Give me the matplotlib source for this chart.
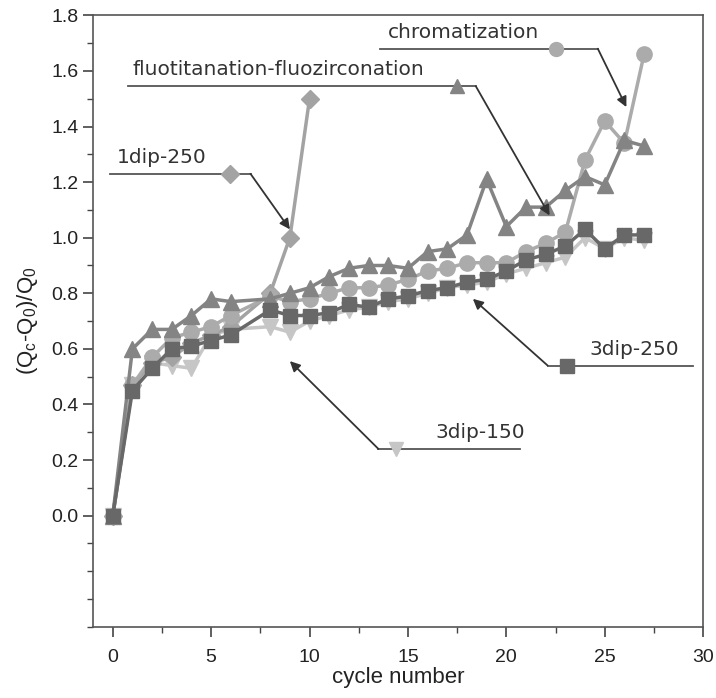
import matplotlib
matplotlib.use("Agg")
import matplotlib.pyplot as plt
from matplotlib.ticker import MultipleLocator, FormatStrFormatter

# cycle numbers (no point at 7)
cycles = [0, 1, 2, 3, 4, 5, 6, 8, 9, 10, 11, 12, 13, 14, 15, 16, 17, 18, 19, 20,
          21, 22, 23, 24, 25, 26, 27]
dip1_x = [0, 1, 2, 3, 4, 5, 6, 8, 9, 10]

dip1_250 = [0.0, 0.47, 0.55, 0.57, 0.62, 0.65, 0.68, 0.80, 1.00, 1.50]
fluo = [0.0, 0.60, 0.67, 0.67, 0.72, 0.78, 0.77, 0.78, 0.80, 0.82, 0.86, 0.89, 0.90,
        0.90, 0.89, 0.95, 0.96, 1.01, 1.21, 1.04, 1.11, 1.11, 1.17, 1.22, 1.19, 1.35, 1.33]
chrom = [0.0, 0.47, 0.57, 0.64, 0.66, 0.68, 0.72, 0.79, 0.77, 0.78, 0.80, 0.82, 0.82,
         0.83, 0.85, 0.88, 0.89, 0.91, 0.91, 0.91, 0.95, 0.98, 1.02, 1.28, 1.42, 1.34, 1.66]
dip3_250 = [0.0, 0.45, 0.53, 0.60, 0.61, 0.63, 0.65, 0.74, 0.72, 0.72, 0.73, 0.76, 0.75,
            0.78, 0.79, 0.81, 0.82, 0.84, 0.85, 0.88, 0.92, 0.94, 0.97, 1.03, 0.96, 1.01, 1.01]
dip3_150 = [0.0, 0.47, 0.55, 0.54, 0.53, 0.65, 0.67, 0.68, 0.66, 0.70, 0.72, 0.74, 0.75,
            0.77, 0.78, 0.80, 0.82, 0.83, 0.84, 0.87, 0.89, 0.91, 0.93, 1.00, 0.96, 1.00, 0.99]

c_dip1 = "#a3a3a3"
c_fluo = "#848484"
c_chrom = "#ababab"
c_3d250 = "#686868"
c_3d150 = "#c6c6c6"

fig = plt.figure(figsize=(7.16, 6.98), dpi=100)
ax = fig.add_axes([0.130, 0.102, 0.852, 0.876])

lw = 2.5
ax.plot(cycles, dip3_150, color=c_3d150, marker="v", ms=11, lw=lw, mec=c_3d150, zorder=2)
ax.plot(dip1_x, dip1_250, color=c_dip1, marker="D", ms=9, lw=lw, mec=c_dip1, zorder=3)
ax.plot(cycles, dip3_250, color=c_3d250, marker="s", ms=10, lw=lw, mec=c_3d250, zorder=4)
ax.plot(cycles, chrom, color=c_chrom, marker="o", ms=11, lw=lw, mec=c_chrom, zorder=3)
ax.plot(cycles, fluo, color=c_fluo, marker="^", ms=11, lw=lw, mec=c_fluo, zorder=3)

# callout labels: text, text pos, underline x-range, line y, marker x, marker, colour, kink, arrow tip
callouts = [
    ("chromatization", (14.0, 1.705), (13.6, 24.65), 1.68, 22.5, "o", c_chrom, 24.65, (26.1, 1.47)),
    ("fluotitanation-fluozirconation", (1.0, 1.57), (0.76, 18.45), 1.545, 17.5, "^", c_fluo, 18.45, (22.2, 1.08)),
    ("1dip-250", (0.2, 1.255), (-0.15, 7.0), 1.23, 5.95, "D", c_dip1, 7.0, (9.0, 1.03)),
    ("3dip-250", (24.2, 0.565), (22.1, 29.5), 0.54, 23.1, "s", c_3d250, 22.1, (18.3, 0.78)),
    ("3dip-150", (16.4, 0.265), (13.5, 20.7), 0.24, 14.4, "v", c_3d150, 13.5, (9.0, 0.556)),
]
for txt, tpos, (x0, x1), ly, mx, mk, col, kx, tip in callouts:
    ax.plot([x0, x1], [ly, ly], color="#555555", lw=1.3, zorder=5)
    ax.plot([mx], [ly], marker=mk, color=col, ms=10 if mk != "D" else 9, zorder=6)
    ax.text(tpos[0], tpos[1], txt, fontsize=14.5, color="#333333", ha="left", va="bottom",
            family="DejaVu Sans", zorder=6)
    ax.annotate("", xy=tip, xytext=(kx, ly),
                arrowprops=dict(arrowstyle="-|>", color="#333333", lw=1.3,
                                mutation_scale=15, shrinkA=0, shrinkB=0), zorder=6)

ax.set_xlim(-1, 30)
ax.set_ylim(-0.4, 1.8)
ax.xaxis.set_major_locator(MultipleLocator(5))
ax.xaxis.set_minor_locator(MultipleLocator(2.5))
ax.yaxis.set_minor_locator(MultipleLocator(0.1))
ax.set_yticks([0.0, 0.2, 0.4, 0.6, 0.8, 1.0, 1.2, 1.4, 1.6, 1.8])
ax.yaxis.set_major_formatter(FormatStrFormatter("%.1f"))
ax.tick_params(which="both", direction="out", color="#444444", labelsize=14,
               labelcolor="#222222")
ax.tick_params(which="major", length=7, width=1.2)
ax.tick_params(axis="x", which="major", pad=9)
ax.tick_params(which="minor", length=4, width=1.0)
for s in ax.spines.values():
    s.set_color("#555555")
    s.set_linewidth(1.2)
for lab in ax.get_xticklabels() + ax.get_yticklabels():
    lab.set_family("Liberation Sans")

ax.set_xlabel("cycle number", fontsize=16, family="Liberation Sans", color="#222222", labelpad=1)
ax.set_ylabel(r"(Q$_\mathregular{c}$-Q$_\mathregular{0}$)/Q$_\mathregular{0}$", fontsize=16,
              family="Liberation Sans", color="#222222", labelpad=8)

fig.savefig("out.png", dpi=100)
